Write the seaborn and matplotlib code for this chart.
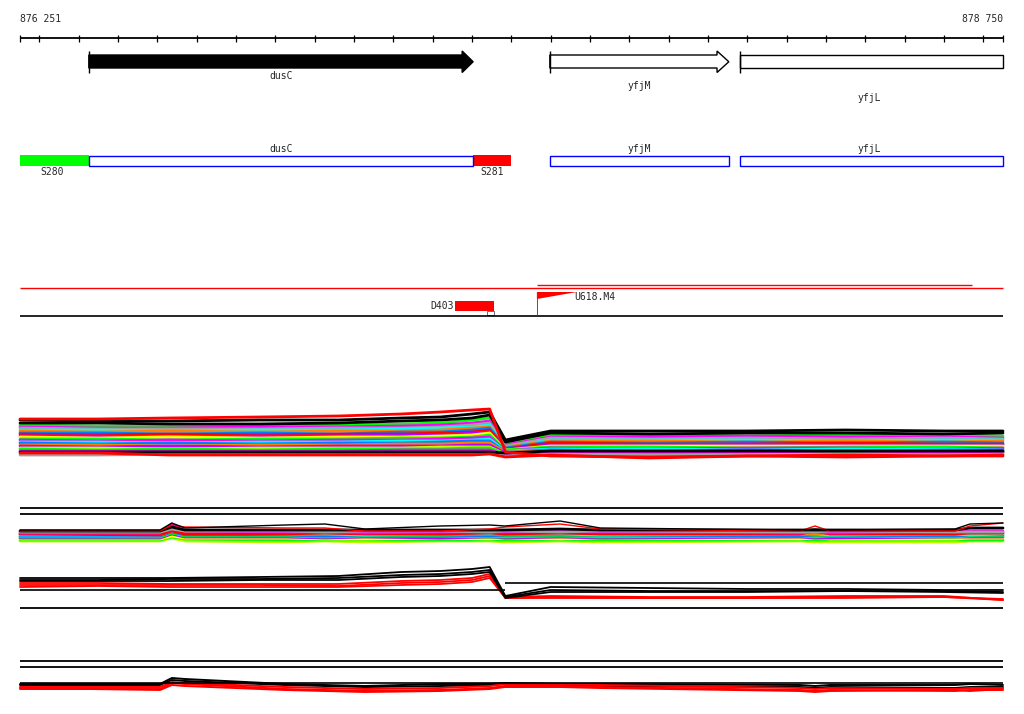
import matplotlib
matplotlib.use("Agg")
import numpy as np
import pandas as pd
import matplotlib.pyplot as plt
import seaborn as sns
from matplotlib.patches import Polygon, Rectangle

# ---------------- data ----------------
view_start, view_end = 876251, 878750
ruler_ticks = list(range(876300, 878701, 100))

genes = ["dusC", "yfjM", "yfjL"]
gene_start = [876426, 877598, 878081]
gene_end = [877403, 878053, 878750]
seg_names = ["S280", "S281"]
seg_start = [876251, 877403]
seg_end = [876426, 877499]
seg_colors = ["#00ff00", "#ff0000"]

d403_start, d403_end = 877357, 877456
u618_pos, u618_tip = 877565, 877667
red_bar_start, red_bar_end = 877565, 878670

knots_a = [876251, 876450, 876630, 876860, 877060, 877220, 877320, 877400,
           877445, 877485, 877600, 877850, 878100, 878350, 878600, 878750]
knots_b = [876251, 876607, 876637, 876670, 876925, 877026, 877128, 877319,
           877446, 877484, 877624, 877726, 878234, 878272, 878310, 878628,
           878666, 878750]

panel_a = {
    "lime_1":     [45,44,44,44,45,46,47,50,52,26,35,35,34,35,35,34],
    "magenta_1":  [43,42,42,43,43,44,45,47,49,25,33,33,34,33,33,32],
    "gray_1":     [42,41,41,41,42,42,43,45,47,24,32,31,32,31,32,31],
    "cyan_1":     [40,40,39,40,40,41,42,43,45,23,30,30,30,29,30,30],
    "orange_1":   [39,38,39,38,39,39,40,42,43,23,29,29,28,29,28,29],
    "blue_1":     [37,37,36,37,36,38,38,40,42,22,28,27,28,27,28,27],
    "red_1":      [36,35,36,35,36,36,37,38,40,21,27,26,26,27,26,26],
    "purple_1":   [34,34,33,34,34,35,35,37,38,21,25,25,26,25,25,25],
    "yellow_1":   [33,32,33,32,33,33,34,35,37,20,24,24,24,24,24,24],
    "lime_2":     [31,31,30,31,31,32,32,33,35,20,23,23,22,23,23,22],
    "magenta_2":  [30,29,30,29,30,30,31,32,33,19,22,21,22,22,21,22],
    "cyan_2":     [28,28,27,28,28,29,29,30,31,19,21,21,20,21,21,20],
    "blue_2":     [27,26,27,26,27,27,28,29,29,18,20,19,20,19,20,20],
    "orange_2":   [25,25,24,25,25,26,26,27,27,18,19,19,18,19,19,18],
    "purple_2":   [24,23,24,23,24,24,24,25,25,17,18,18,18,18,18,18],
    "chartreuse_1":[22,22,21,22,22,22,23,23,23,16,17,17,17,17,17,17],
    "lime_3":     [21,20,21,20,21,21,21,22,22,16,18,17,18,18,17,18],
    "magenta_3":  [19,19,19,19,19,20,20,20,20,15,18,18,18,19,18,18],
    "gray_2":     [15,15,16,16,16,16,16,17,17,14,16,15,15,15,15,16],
    "black_3":    [18,18,18,18,18,18,18,18,18,17,19,19,19,19,19,19],
    "red_3":      [17,17,15,15,15,15,15,15,16,13,15,12,14,15,14,15],
    "black_2":    [47,47,46,46,47,49,50,52,55,28,37,36,37,37,36,37],
    "black_1":    [50,49,49,50,50,52,53,56,58,30,39,39,39,40,39,39],
    "red_2":      [51,51,52,53,54,56,58,60,61,18,14,13,14,13,14,14],
}

panel_b = {
    "chartreuse_1": [9,9,12,9,8,9,8,9,9,8,9,8,9,8,8,8,9,9],
    "lime_2":     [10,10,13,11,10,10,10,10,10,10,10,10,10,10,10,10,10,10],
    "yellow_1":   [11,11,14,12,12,11,11,12,11,12,11,12,11,12,11,11,12,12],
    "purple_1":   [12,12,16,13,13,12,13,12,13,12,13,12,13,12,12,13,13,13],
    "lime_1":     [13,13,17,14,14,13,14,14,13,13,14,13,14,13,14,13,14,14],
    "blue_1":     [14,14,18,15,15,14,15,15,14,15,15,15,14,15,15,14,15,15],
    "cyan_1":     [15,15,19,17,16,16,15,16,16,16,16,15,16,16,15,16,15,16],
    "orange_1":   [16,16,20,18,17,17,18,17,18,17,17,18,17,16,17,17,17,17],
    "red_1":      [16,15,19,16,16,17,16,16,17,16,17,16,16,19,16,16,17,17],
    "magenta_1":  [17,17,26,19,18,18,17,18,18,18,19,18,17,18,17,18,19,19],
    "gray_1":     [18,18,21,19,19,18,19,19,18,19,18,19,18,18,19,18,18,18],
    "black_2":    [19,19,23,20,20,20,20,20,20,20,21,20,20,20,20,20,22,22],
}
panel_b_thin = {
    "red_2":      [19,19,25,23,22,22,19,19,21,23,26,21,19,24,19,19,24,27],
    "black_1":    [20,20,27,22,25,26,21,24,25,24,29,22,20,21,20,21,26,27],
}

panel_c = {
    "red_1":   [27,27,26,26,26,29,30,32,36,13,14,13,13,14,14,10],
    "red_2":   [25,25,25,25,24,27,28,30,34,12,13,12,12,13,13,10],
    "red_3":   [23,24,23,23,23,25,26,28,32,12,12,12,12,12,13,11],
    "black_1": [32,32,32,33,34,38,39,41,43,14,23,22,21,21,20,20],
    "black_2": [30,30,31,31,32,35,36,38,40,13,20,19,19,19,19,18],
    "black_3": [29,29,29,30,30,33,34,36,38,12,18,18,18,19,18,17],
}
panel_c_ref_left, panel_c_ref_right = 20, 27

panel_d = {
    "black_1": [16,16,22,21,16,15,14,16,16,17,16,16,15,14,15,15,16,15],
    "black_2": [15,15,20,19,15,14,13,14,15,16,15,14,13,12,13,12,13,13],
    "red_1":   [13,13,18,17,13,12,11,12,14,16,16,15,12,11,12,11,12,12],
    "red_2":   [11,11,17,16,11,10,9,10,12,14,14,13,10,9,10,9,10,10],
    "red_3":   [12,10,15,14,10,9,8,9,11,13,13,12,9,8,9,10,9,11],
}
panel_d_ref = 17

colors = {
    "lime": "#00ff00", "magenta": "#ff00ff", "gray": "#a0a0a0",
    "cyan": "#00ffff", "orange": "#ff8000", "blue": "#0080ff",
    "red": "#ff0000", "purple": "#c000ff", "yellow": "#ffff00",
    "chartreuse": "#c0ff00", "black": "#000000",
}

# ---------------- layout ----------------
W, H = 1024, 714
bp_per_px = (view_end - view_start) / 983.0
xmin = view_start - 20 * bp_per_px
xmax = xmin + W * bp_per_px

sns.set_theme(style="white")
plt.rcParams["font.family"] = ["DejaVu Sans Mono", "DejaVu Sans"]
fs = 7

fig = plt.figure(figsize=(W / 100, H / 100), dpi=100)
ax0 = fig.add_axes([0, 0, 1, 1])
ax0.set_xlim(xmin, xmax)
ax0.set_ylim(H, 0)
ax0.axis("off")

# ruler
ax0.hlines(38, view_start, view_end, color="black", lw=1.3)
ax0.vlines([view_start] + ruler_ticks + [view_end], 35, 41.5, color="black", lw=0.9)
ax0.text(view_start, 19, "876 251", fontsize=fs, ha="left", va="center")
ax0.text(view_end, 19, "878 750", fontsize=fs, ha="right", va="center")


def gene_arrow(s, e, head, fill, body=(55, 68), hy=(51, 72.5)):
    hb = e - head
    pts = [(s, body[0]), (hb, body[0]), (hb, hy[0]), (e, (hy[0] + hy[1]) / 2),
           (hb, hy[1]), (hb, body[1]), (s, body[1])]
    ax0.add_patch(Polygon(pts, closed=True, facecolor=fill, edgecolor="black", lw=1.0))
    ax0.vlines(s, hy[0], hy[1], color="black", lw=1.0)

gene_arrow(gene_start[0], gene_end[0], 28, "black")
gene_arrow(gene_start[1], gene_end[1], 30, "white")
ax0.add_patch(Rectangle((gene_start[2], 55), gene_end[2] - gene_start[2], 13,
                        facecolor="white", edgecolor="black", lw=1.0))
ax0.vlines(gene_start[2], 51, 72.5, color="black", lw=1.0)
gene_label_y = [76, 86, 98]
for g, s, e, ly in zip(genes, gene_start, gene_end, gene_label_y):
    cx = (s + e) / 2 if g != "yfjL" else 878409
    ax0.text(cx, ly, g, fontsize=fs, ha="center", va="center")

for n, s, e, c in zip(seg_names, seg_start, seg_end, seg_colors):
    ax0.add_patch(Rectangle((s, 155), e - s, 11, facecolor=c, edgecolor="none"))
    ax0.text((s + e) / 2 + (0 if n == "S281" else -5), 172, n, fontsize=fs,
             ha="center", va="center")
for g, s, e in zip(genes, gene_start, gene_end):
    ax0.add_patch(Rectangle((s, 155.5), e - s, 10, facecolor="white",
                            edgecolor="#0000ff", lw=1.0))
    cx = (s + e) / 2 if g != "yfjL" else 878409
    ax0.text(cx, 149, g, fontsize=fs, ha="center", va="center")

# feature track
ax0.hlines(284.5, red_bar_start, red_bar_end, color="red", lw=1.0)
ax0.hlines(287.5, view_start, view_end, color="red", lw=1.0)
ax0.hlines(315.5, view_start, view_end, color="black", lw=1.2)
ax0.add_patch(Rectangle((d403_start, 301), d403_end - d403_start, 10,
                        facecolor="red", edgecolor="none"))
ax0.add_patch(Rectangle((d403_end - 18, 311), 18, 4, facecolor="white",
                        edgecolor="#555555", lw=0.6))
ax0.text(d403_start - 3, 306, "D403", fontsize=fs, ha="right", va="center")
ax0.vlines(u618_pos, 292, 315, color="#555555", lw=0.7)
ax0.add_patch(Polygon([(u618_pos, 292), (u618_tip, 292), (u618_pos, 299)],
                      closed=True, facecolor="red", edgecolor="none"))
ax0.text(u618_tip - 7, 297, "U618.M4", fontsize=fs, ha="left", va="center")

for yy in (507.5, 514, 607.5, 660.5, 667):
    ax0.hlines(yy, view_start, view_end, color="black", lw=1.3)


def long_df(knots, series):
    rows = []
    for name, vals in series.items():
        for x, v in zip(knots, vals):
            rows.append((name, x, v))
    return pd.DataFrame(rows, columns=["series", "pos", "val"])


def draw(ax, knots, series, lw):
    df = long_df(knots, series)
    order = list(series.keys())
    pal = {n: colors[n.split("_")[0]] for n in order}
    sns.lineplot(data=df, x="pos", y="val", hue="series", hue_order=order,
                 palette=pal, estimator=None, sort=False, legend=False,
                 ax=ax, linewidth=lw)


def panel(top_px, bottom_px):
    ax = fig.add_axes([0, 1 - bottom_px / H, 1, (bottom_px - top_px) / H])
    ax.patch.set_alpha(0)
    ax.set_xlim(xmin, xmax)
    ax.set_ylim(0, bottom_px - top_px)
    ax.axis("off")
    return ax

axA = panel(400, 470)
draw(axA, knots_a, panel_a, 2.0)
axA.set_xlim(xmin, xmax); axA.set_ylim(0, 70); axA.axis("off")

axB = panel(515, 550)
draw(axB, knots_b, panel_b, 2.0)
draw(axB, knots_b, panel_b_thin, 1.0)
axB.set_xlim(xmin, xmax); axB.set_ylim(0, 35); axB.axis("off")

axC = panel(560, 610)
draw(axC, knots_a, panel_c, 1.3)
axC.hlines(panel_c_ref_left, view_start, knots_a[9], color="black", lw=1.2)
axC.hlines(panel_c_ref_right, knots_a[9], view_end, color="black", lw=1.2)
axC.set_xlim(xmin, xmax); axC.set_ylim(0, 50); axC.axis("off")

axD = panel(660, 700)
draw(axD, knots_b, panel_d, 1.4)
axD.hlines(panel_d_ref, view_start, view_end, color="black", lw=1.2)
axD.set_xlim(xmin, xmax); axD.set_ylim(0, 40); axD.axis("off")

fig.savefig("out.png", dpi=100, facecolor="white")
